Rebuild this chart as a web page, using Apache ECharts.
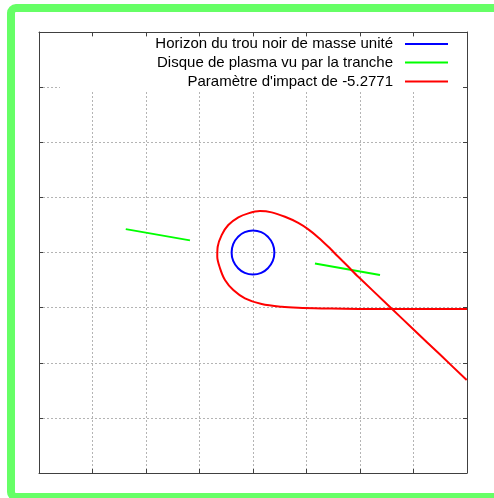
<!DOCTYPE html>
<html>
<head>
<meta charset="utf-8">
<script src="https://cdn.jsdelivr.net/npm/echarts@6/dist/echarts.min.js"></script>
<style>
html,body{margin:0;padding:0;background:#fff;}
#chart{width:494px;height:498px;}
</style>
</head>
<body>
<div id="chart"></div>
<script>
// Series names
const nameHorizon = "Horizon du trou noir de masse unité";
const nameDisk = "Disque de plasma vu par la tranche";
const nameRay = "Paramètre d'impact de -5.2771";

// Horizon circle (radius 2)
const horizonPts = [
  [2,0],[1.85,0.77],[1.41,1.41],[0.77,1.85],[0,2],[-0.77,1.85],[-1.41,1.41],[-1.85,0.77],
  [-2,0],[-1.85,-0.77],[-1.41,-1.41],[-0.77,-1.85],[0,-2],[0.77,-1.85],[1.41,-1.41],[1.85,-0.77],[2,0]
];
// Plasma disk seen edge-on (two segments)
const diskLeft = [[-11.89,2.12],[-5.89,1.10]];
const diskRight = [[5.79,-0.99],[11.87,-2.05]];
// Light ray trajectory
const rayPts = [
  [20,-5.13],[10.93,-5.13],[6.42,-5.07],[4.23,-5.02],[2.68,-4.93],
  [0.81,-4.68],[-0.75,-4.16],[-1.84,-3.41],[-2.62,-2.50],[-3.08,-1.44],
  [-3.34,-0.39],[-3.30,0.52],[-2.93,1.58],[-2.31,2.49],[-1.37,3.18],
  [-0.44,3.55],[0.65,3.76],[1.75,3.64],[2.99,3.24],[4.23,2.69],
  [5.17,2.10],[6.10,1.37],[7.04,0.52],[7.97,-0.39],[8.91,-1.30],
  [9.84,-2.20],[12.80,-4.94],[14.98,-6.96],[17.48,-9.26],[19.97,-11.57]
];
// Axis range
const axisMin = -20, axisMax = 20, axisStep = 5;

const chart = echarts.init(document.getElementById('chart'));
const font = "'Liberation Sans', Arial, sans-serif";
function mkAxis(pos, grid){
  return {
    type:'value', position:pos, min:axisMin, max:axisMax, interval:axisStep,
    axisLine:{show:true,onZero:false,lineStyle:{color:'#404040',width:1}},
    axisTick:{show:true,inside:true,length:4,lineStyle:{color:'#404040'}},
    axisLabel:{show:false},
    splitLine:{show:grid,lineStyle:{color:'#b4b4b4',type:[2,2],width:1}}
  };
}
function mkLegend(name, top){
  return {
    data:[name], right:46, top:top, orient:'horizontal', align:'right',
    padding:0, itemWidth:43, itemHeight:2, icon:'rect',
    textStyle:{fontFamily:font,fontSize:15,color:'#000',padding:[0,7,0,0]}
  };
}
const option = {
  animation:false,
  backgroundColor:'#fff',
  grid:{left:39,right:27,top:32,bottom:25,containLabel:false},
  xAxis:[mkAxis('bottom',true), mkAxis('top',false)],
  yAxis:[mkAxis('left',true), mkAxis('right',false)],
  legend:[mkLegend(nameHorizon,36.5), mkLegend(nameDisk,55), mkLegend(nameRay,74)],
  graphic:[
    {type:'rect',z:1,silent:true,shape:{x:60,y:37,width:402,height:55},style:{fill:'#fff'}},
    {type:'rect',z:10,silent:true,shape:{x:11,y:8,width:520,height:489,r:5},
      style:{fill:'none',stroke:'#66ff66',lineWidth:8}}
  ],
  series:[
    {name:nameHorizon,type:'line',data:horizonPts,smooth:0.5,symbol:'none',
      lineStyle:{color:'#0000ff',width:2},itemStyle:{color:'#0000ff'}},
    {name:nameDisk,type:'line',data:diskLeft,symbol:'none',
      lineStyle:{color:'#00ff00',width:2},itemStyle:{color:'#00ff00'}},
    {name:nameDisk,type:'line',data:diskRight,symbol:'none',
      lineStyle:{color:'#00ff00',width:2},itemStyle:{color:'#00ff00'}},
    {name:nameRay,type:'line',data:rayPts,smooth:0.3,symbol:'none',
      lineStyle:{color:'#ff0000',width:2},itemStyle:{color:'#ff0000'}}
  ]
};
chart.setOption(option);
</script>
</body>
</html>
